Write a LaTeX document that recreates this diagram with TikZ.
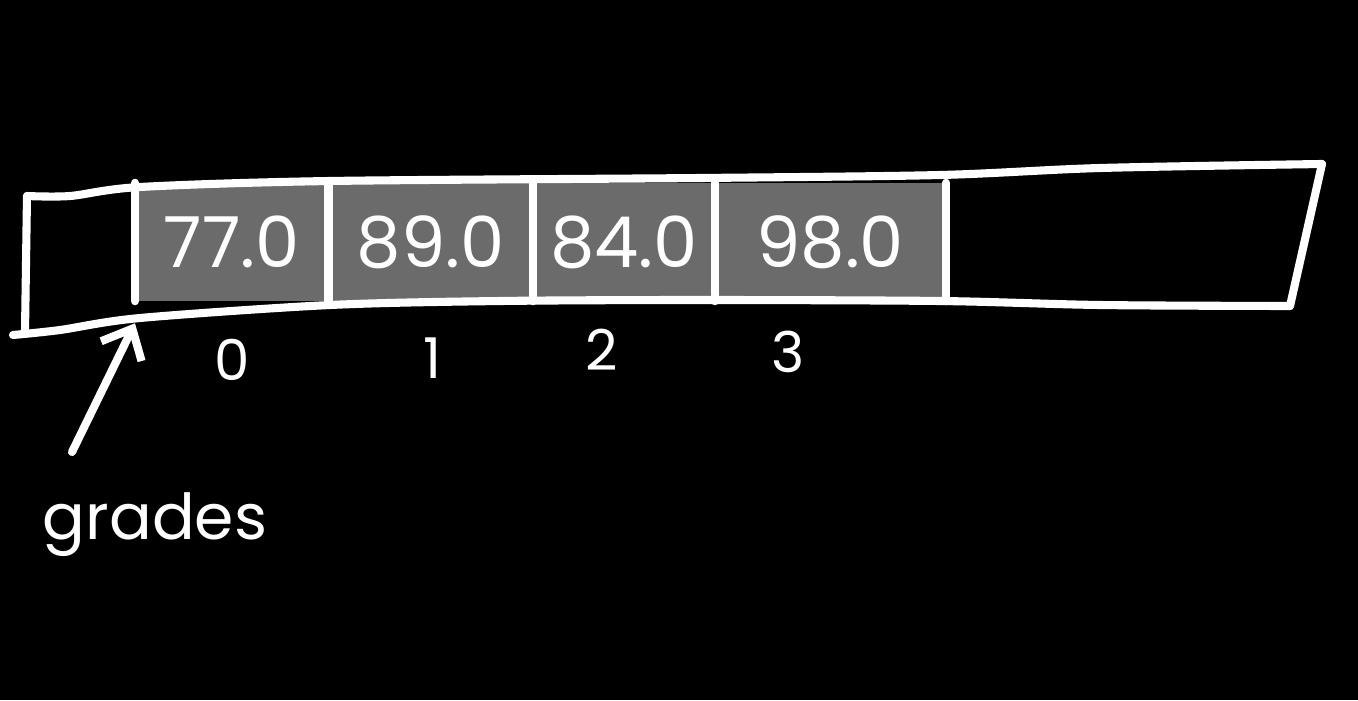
\documentclass[tikz,border=0pt]{standalone}
\usepackage{fontspec}
\setmainfont{Poppins}
\usetikzlibrary{arrows.meta,positioning}
\definecolor{cellgray}{HTML}{6B6B6B}
\tikzset{>={Straight Barb[length=2.5mm,width=4.5mm]}}
\tikzset{
  chalk/.style={white,line width=2.3pt,line cap=round,line join=round},
  cell/.style={fill=cellgray,minimum height=1.17cm,inner sep=0pt,
    text=white,font=\fontsize{20}{20}\selectfont},
  idx/.style={text=white,inner sep=0pt,font=\fontsize{16}{16}\selectfont},
}

\begin{document}
\begin{tikzpicture}[x=0.01cm,y=-0.01cm]
  \fill[black] (0,0) rectangle (1358,700);
  \useasboundingbox (0,0) rectangle (1358,700);
  % filled cells
  \node[cell,minimum width=1.92cm,anchor=west] (c0) at (135,242) {77.0};
  \node[cell,minimum width=2.03cm,right=0pt of c0] (c1) {89.0};
  \node[cell,minimum width=1.80cm,right=0pt of c1] (c2) {84.0};
  \node[cell,minimum width=2.30cm,right=0pt of c2] (c3) {98.0};
  \foreach \c in {c0,c1,c2,c3}
    \draw[chalk] (\c.north west) -- (\c.south west);
  \draw[chalk] (c3.north east) -- (c3.south east);
  % outer box
  \draw[chalk] plot[smooth] coordinates
    {(27,196) (70,196) (140,187) (330,181) (700,178) (940,175) (1100,168) (1322,164)};
  \draw[chalk] (1322,164) -- (1290,306);
  \draw[chalk] plot[smooth] coordinates
    {(1290,306) (1100,305) (940,301) (700,300) (500,301) (330,305) (140,318) (60,330) (13,335)};
  \draw[chalk] (27,196) -- (25,332);
  % indices
  \node[idx] (i0) at (232,360) {0};
  \node[idx] (i1) at (432,358) {1};
  \node[idx] (i2) at (602,350) {2};
  \node[idx] (i3) at (788,352) {3};
  % label
  \node[text=white,font=\fontsize{18}{18}\selectfont] (grades) at (155,525) {grades};
  \coordinate (tail) at (72,452);
  \draw[chalk,->] (tail) -- ([yshift=-0.22cm]c0.south west);
\end{tikzpicture}
\end{document}
